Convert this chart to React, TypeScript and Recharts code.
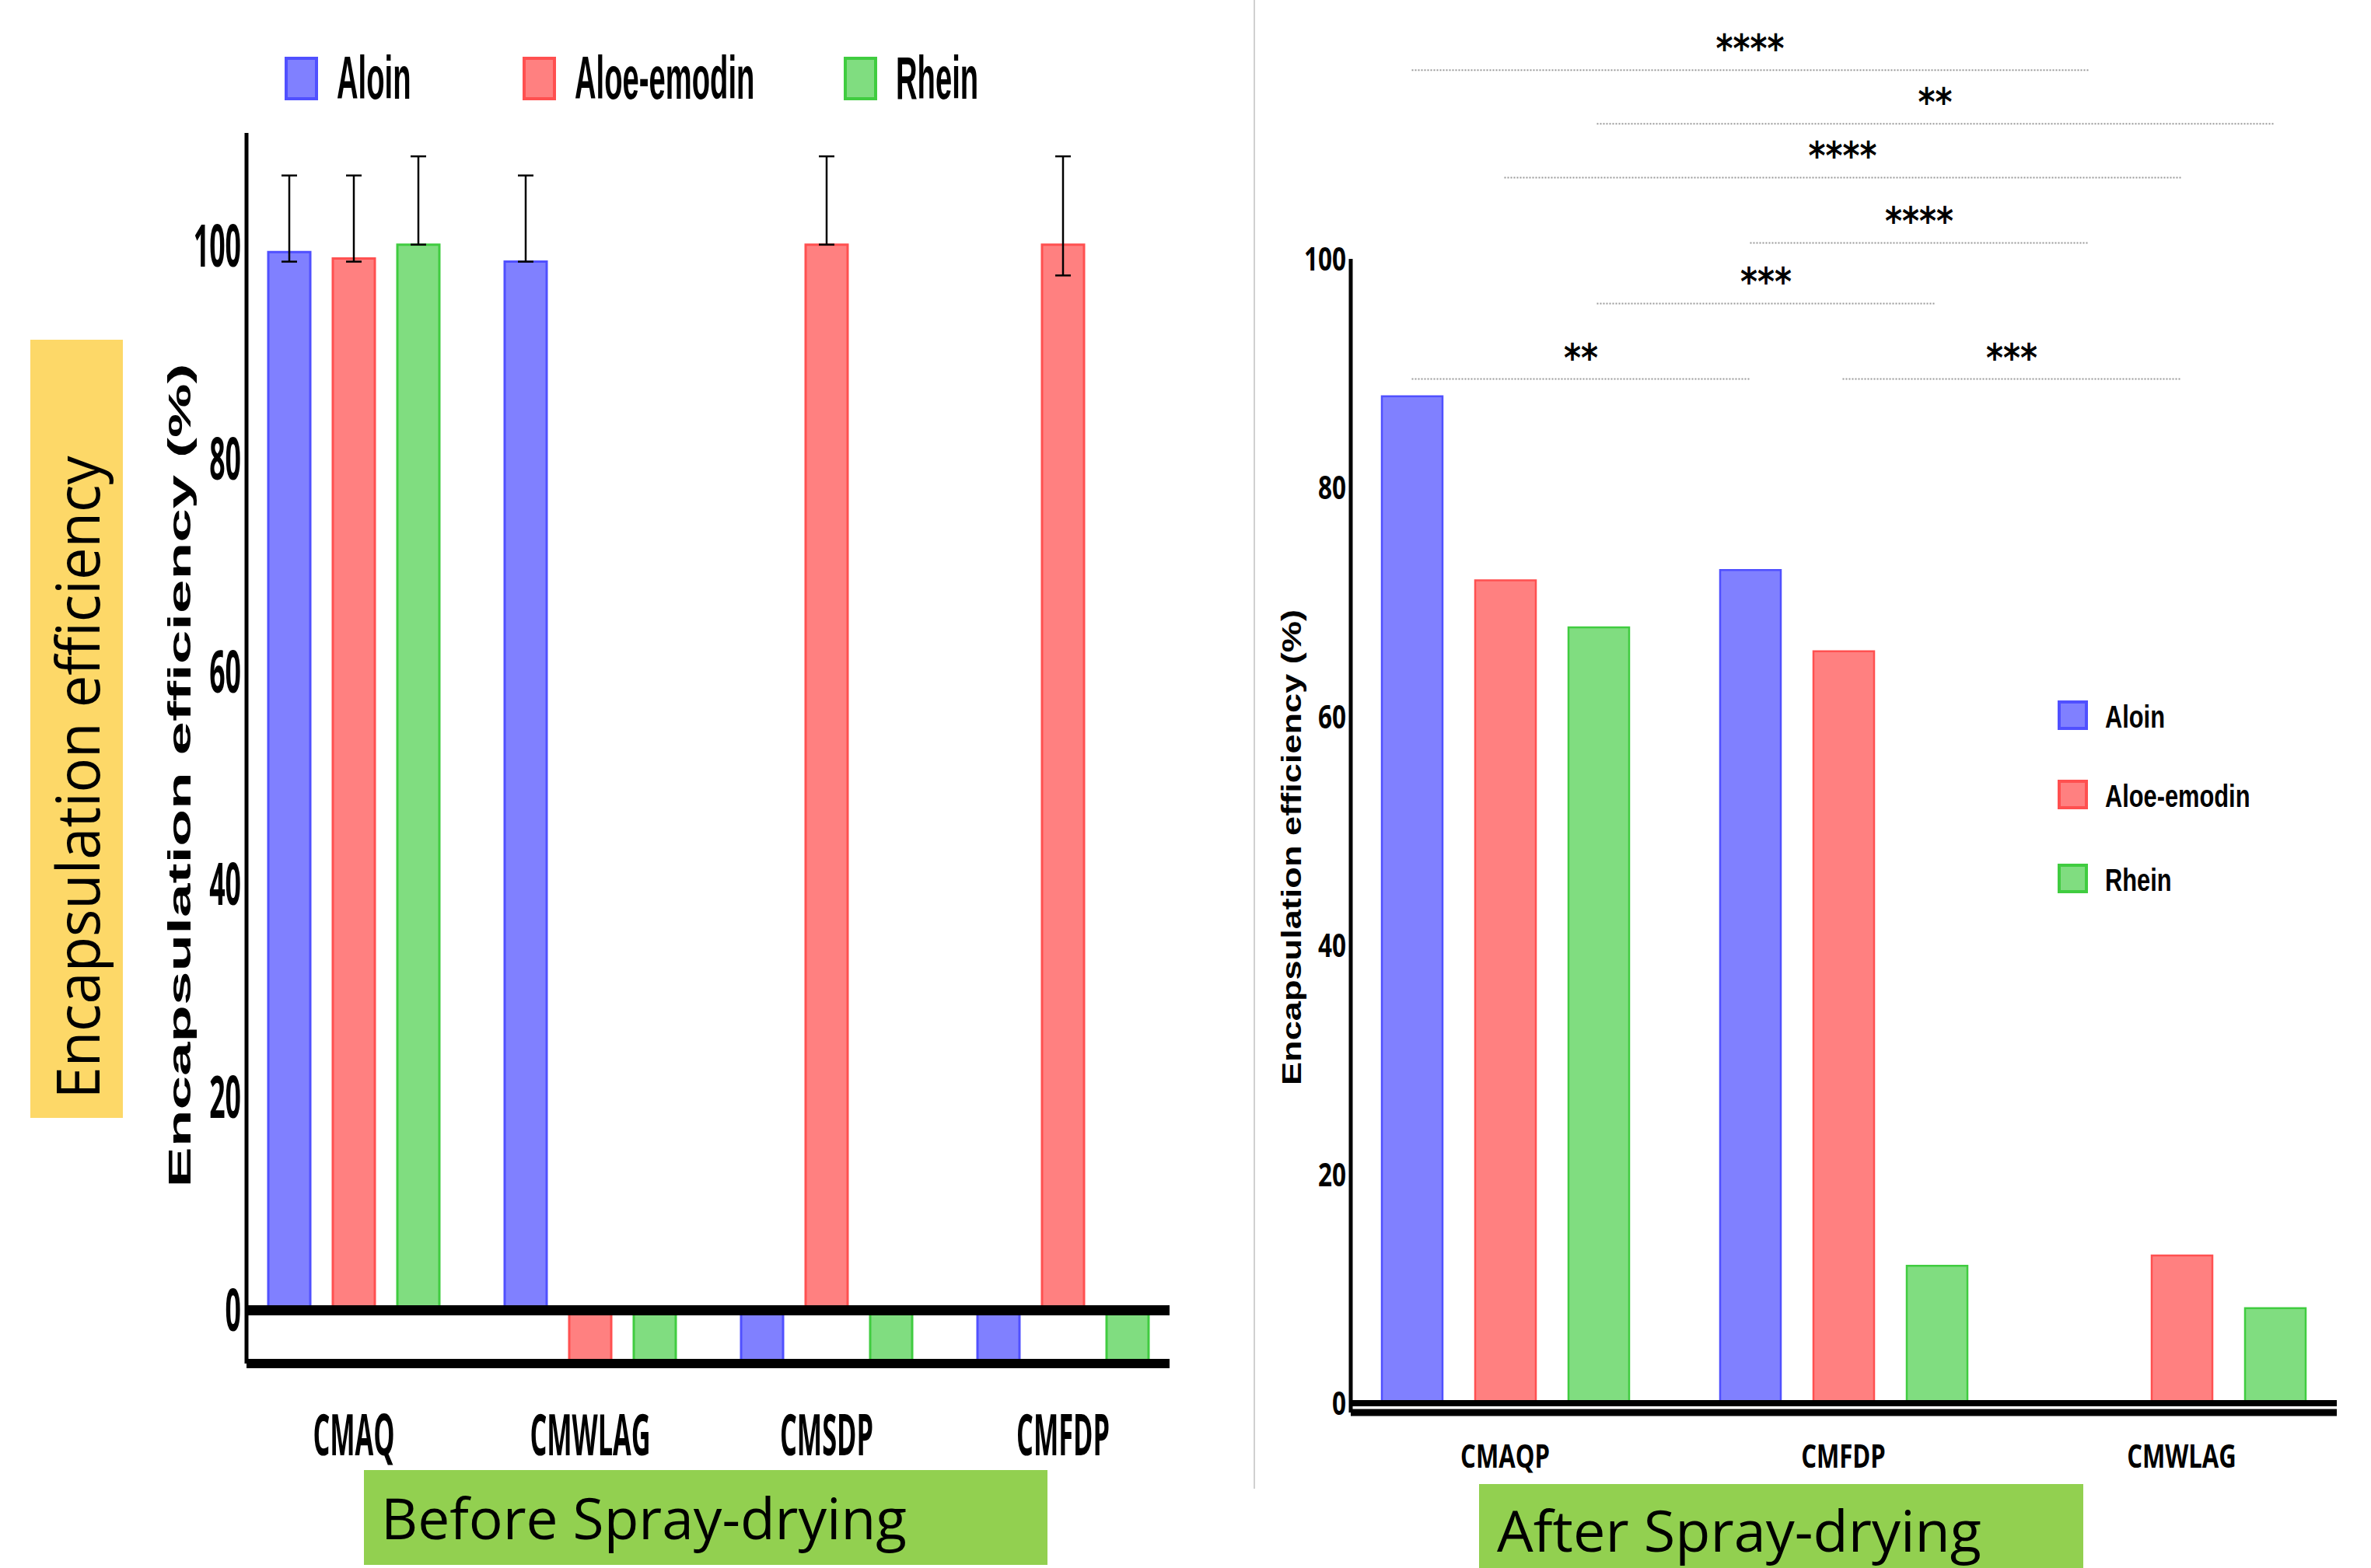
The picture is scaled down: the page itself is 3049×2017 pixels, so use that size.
import {
  Bar,
  BarChart,
  ErrorBar,
  Legend,
  ReferenceLine,
  XAxis,
  YAxis,
} from 'recharts';

// ---- data ----
const beforeGroups = ['CMAQ', 'CMWLAG', 'CMSDP', 'CMFDP'];
const beforeAloin = [99.5, 98.6, -4.8, -4.8];
const beforeAloeEmodin = [98.9, -4.8, 100.2, 100.2];
const beforeRhein = [100.2, -4.8, -4.8, -4.8];
// error as [below, above] the bar value
const beforeAloinErr = [[0.9, 7.2], [0, 8.1], null, null];
const beforeAloeEmodinErr = [[0.3, 7.8], null, [0, 8.3], [2.9, 8.3]];
const beforeRheinErr = [[0, 8.3], null, null, null];

const afterGroups = ['CMAQP', 'CMFDP', 'CMWLAG'];
const afterAloin = [88.0, 72.8, -0.15];
const afterAloeEmodin = [71.9, 65.7, 12.9];
const afterRhein = [67.8, 12.0, 8.3];

const efficiencyTicks = [0, 20, 40, 60, 80, 100];

// significance brackets: [group index, series index] pairs, height in % units
const significance = [
  { from: [0, 0], to: [2, 0], level: 116.5, stars: '****' },
  { from: [0, 2], to: [2, 2], level: 111.8, stars: '**' },
  { from: [0, 1], to: [2, 1], level: 107.1, stars: '****' },
  { from: [1, 0], to: [2, 0], level: 101.4, stars: '****' },
  { from: [0, 2], to: [1, 2], level: 96.1, stars: '***' },
  { from: [0, 0], to: [1, 0], level: 89.5, stars: '**' },
  { from: [1, 1], to: [2, 1], level: 89.5, stars: '***' },
];

const SERIES = [
  { key: 'aloin', name: 'Aloin', fill: '#8080ff', stroke: '#5050ff' },
  { key: 'aloeEmodin', name: 'Aloe-emodin', fill: '#ff8080', stroke: '#ff5050' },
  { key: 'rhein', name: 'Rhein', fill: '#80dd80', stroke: '#40cc40' },
];

const beforeData = beforeGroups.map((group, i) => ({
  group,
  aloin: beforeAloin[i],
  aloeEmodin: beforeAloeEmodin[i],
  rhein: beforeRhein[i],
  aloinErr: beforeAloinErr[i],
  aloeEmodinErr: beforeAloeEmodinErr[i],
  rheinErr: beforeRheinErr[i],
}));

const afterData = afterGroups.map((group, i) => ({
  group,
  slot: i,
  aloin: afterAloin[i],
  aloeEmodin: afterAloeEmodin[i],
  rhein: afterRhein[i],
}));

// ---- layout ----
const ARIAL = '"Liberation Sans", Arial, sans-serif';
const CALIBRI = '"Open Sans", "Noto Sans", sans-serif';

const BEFORE_LEGEND_X = [366, 672, 1085];
const AFTER_LEGEND_Y = [901, 1003, 1111];

const AFTER_W = 1429;
const AFTER_MARGIN = { top: 333, right: 44, bottom: 100, left: 17 };
const AFTER_YAXIS_W = 100;
const AFTER_PAD = { left: -19, right: -18 };
const AFTER_CAT_GAP = 59;
const AFTER_BAR_GAP = 42;
const AFTER_BAND =
  (AFTER_W - AFTER_MARGIN.left - AFTER_YAXIS_W - AFTER_MARGIN.right - AFTER_PAD.left - AFTER_PAD.right) /
  afterGroups.length;
const AFTER_BAR = Math.floor(
  (AFTER_BAND - 2 * AFTER_CAT_GAP - (SERIES.length - 1) * AFTER_BAR_GAP) / SERIES.length,
);
const barSlot = ([g, k]: number[]) =>
  g + (AFTER_CAT_GAP + k * (AFTER_BAR + AFTER_BAR_GAP) + AFTER_BAR / 2) / AFTER_BAND;

// ---- ticks and labels ----
function BeforeValueTick(props: any) {
  const { x, y, payload } = props;
  return (
    <text
      transform={`translate(${x} ${y + 26}) scale(0.47 1)`}
      textAnchor="end"
      fontFamily={CALIBRI}
      fontWeight={700}
      fontSize={76}
      fill="#000"
    >
      {payload.value}
    </text>
  );
}

function BeforeGroupTick(props: any) {
  const { x, y, payload } = props;
  return (
    <text
      transform={`translate(${x} ${y + 118}) scale(0.47 1)`}
      textAnchor="middle"
      fontFamily={CALIBRI}
      fontWeight={700}
      fontSize={73}
      fill="#000"
    >
      {payload.value}
    </text>
  );
}

function AfterValueTick(props: any) {
  const { x, y, payload } = props;
  return (
    <text
      transform={`translate(${x} ${y + 15}) scale(0.75 1)`}
      textAnchor="end"
      fontFamily={CALIBRI}
      fontWeight={700}
      fontSize={42}
      fill="#000"
    >
      {payload.value}
    </text>
  );
}

function AfterGroupTick(props: any) {
  const { x, y, payload } = props;
  return (
    <text
      transform={`translate(${x} ${y + 71}) scale(0.74 1)`}
      textAnchor="middle"
      fontFamily={CALIBRI}
      fontWeight={700}
      fontSize={42}
      fill="#000"
    >
      {payload.value}
    </text>
  );
}

function BeforeYLabel(props: any) {
  const vb = props.viewBox ?? props;
  const x = vb.x + vb.width - 72;
  const y = vb.y + vb.height / 2 + 35;
  return (
    <text
      transform={`translate(${x} ${y}) rotate(-90) scale(1 0.52)`}
      textAnchor="middle"
      fontFamily={ARIAL}
      fontWeight={700}
      fontSize={78}
      textLength={1060}
      lengthAdjust="spacingAndGlyphs"
      fill="#000"
    >
      Encapsulation efficiency (%)
    </text>
  );
}

function AfterYLabel(props: any) {
  const vb = props.viewBox ?? props;
  const x = vb.x + vb.width - 64;
  const y = vb.y + vb.height / 2 + 15;
  return (
    <text
      transform={`translate(${x} ${y}) rotate(-90) scale(1 0.75)`}
      textAnchor="middle"
      fontFamily={ARIAL}
      fontWeight={700}
      fontSize={48}
      textLength={612}
      lengthAdjust="spacingAndGlyphs"
      fill="#000"
    >
      Encapsulation efficiency (%)
    </text>
  );
}

const starLabel = (stars: string) => (props: any) => {
  const vb = props.viewBox ?? props;
  return (
    <text
      x={vb.x + vb.width / 2}
      y={vb.y - 10}
      textAnchor="middle"
      fontFamily='"DejaVu Sans", sans-serif'
      fontWeight={700}
      fontSize={50}
      textLength={stars.length * 22}
      lengthAdjust="spacingAndGlyphs"
      fill="#000"
    >
      {stars}
    </text>
  );
};

function BeforeLegend() {
  return (
    <div style={{ position: 'relative', width: 0, height: 0 }}>
      <svg width={1600} height={200} style={{ position: 'absolute', left: 0, top: 0, overflow: 'visible' }}>
        {SERIES.map((s, i) => (
          <g key={s.key}>
            <rect x={BEFORE_LEGEND_X[i] + 2} y={75} width={39} height={52} fill={s.fill} stroke={s.stroke} strokeWidth={4} />
            <text
              transform={`translate(${BEFORE_LEGEND_X[i] + 67} 127) scale(0.49 1)`}
              fontFamily={ARIAL}
              fontWeight={700}
              fontSize={78}
              fill="#000"
            >
              {s.name}
            </text>
          </g>
        ))}
      </svg>
    </div>
  );
}

function AfterLegend() {
  return (
    <div style={{ position: 'relative', width: 0, height: 0 }}>
      <svg width={AFTER_W} height={1300} style={{ position: 'absolute', left: 0, top: 0, overflow: 'visible' }}>
        {SERIES.map((s, i) => (
          <g key={s.key}>
            <rect x={1028} y={AFTER_LEGEND_Y[i] + 2} width={35} height={34} fill={s.fill} stroke={s.stroke} strokeWidth={4} />
            <text
              transform={`translate(1087 ${AFTER_LEGEND_Y[i] + 35}) scale(0.77 1)`}
              fontFamily={ARIAL}
              fontWeight={700}
              fontSize={40}
              fill="#000"
            >
              {s.name}
            </text>
          </g>
        ))}
      </svg>
    </div>
  );
}

function BeforeChart() {
  return (
    <BarChart
      width={1600}
      height={2017}
      data={beforeData}
      margin={{ top: 171, right: 96, bottom: 123, left: 197 }}
      barCategoryGap={42}
      barGap={29}
    >
      <XAxis
        dataKey="group"
        height={140}
        interval={0}
        padding={{ left: -14, right: -15 }}
        axisLine={{ stroke: '#000', strokeWidth: 12 }}
        tickLine={false}
        tickSize={0}
        tickMargin={0}
        tick={BeforeGroupTick}
      />
      <YAxis
        width={120}
        domain={[-5, 110.7]}
        ticks={efficiencyTicks}
        allowDataOverflow
        axisLine={{ stroke: '#000', strokeWidth: 5 }}
        tickLine={false}
        tickSize={0}
        tickMargin={7}
        tick={BeforeValueTick}
        label={{ content: BeforeYLabel }}
      />
      {SERIES.map((s) => (
        <Bar
          key={s.key}
          dataKey={s.key}
          name={s.name}
          fill={s.fill}
          stroke={s.stroke}
          strokeWidth={3}
          isAnimationActive={false}
        >
          <ErrorBar
            dataKey={`${s.key}Err`}
            width={10}
            stroke="#000"
            strokeWidth={2.5}
            isAnimationActive={false}
          />
        </Bar>
      ))}
      <ReferenceLine y={0} stroke="#000" strokeWidth={13} />
      <Legend content={BeforeLegend} wrapperStyle={{ left: 0, top: 0, width: 0, height: 0 }} />
    </BarChart>
  );
}

function AfterChart() {
  return (
    <BarChart
      width={AFTER_W}
      height={2017}
      data={afterData}
      margin={AFTER_MARGIN}
      barCategoryGap={AFTER_CAT_GAP}
      barGap={AFTER_BAR_GAP}
    >
      <XAxis
        dataKey="group"
        height={100}
        interval={0}
        padding={AFTER_PAD}
        axisLine={{ stroke: '#000', strokeWidth: 9 }}
        tickLine={false}
        tickSize={0}
        tickMargin={0}
        tick={AfterGroupTick}
      />
      <XAxis
        xAxisId="slot"
        type="number"
        dataKey="slot"
        domain={[0, afterGroups.length]}
        allowDataOverflow
        padding={AFTER_PAD}
        hide
      />
      <YAxis
        width={AFTER_YAXIS_W}
        domain={[-0.82, 100]}
        ticks={efficiencyTicks}
        allowDataOverflow
        axisLine={{ stroke: '#000', strokeWidth: 5 }}
        tickLine={false}
        tickSize={0}
        tickMargin={6}
        tick={AfterValueTick}
        label={{ content: AfterYLabel }}
      />
      {SERIES.map((s) => (
        <Bar
          key={s.key}
          dataKey={s.key}
          name={s.name}
          fill={s.fill}
          stroke={s.stroke}
          strokeWidth={2.5}
          isAnimationActive={false}
        />
      ))}
      <ReferenceLine y={0} stroke="#000" strokeWidth={8} />
      {significance.map((b, i) => (
        <ReferenceLine
          key={i}
          xAxisId="slot"
          ifOverflow="visible"
          segment={[
            { x: barSlot(b.from), y: b.level },
            { x: barSlot(b.to), y: b.level },
          ]}
          stroke="#9a9a9a"
          strokeWidth={2}
          strokeDasharray="2 2"
          label={starLabel(b.stars)}
        />
      ))}
      <Legend content={AfterLegend} wrapperStyle={{ left: 0, top: 0, width: 0, height: 0 }} />
    </BarChart>
  );
}

export default function App() {
  return (
    <div
      style={{
        position: 'absolute',
        left: 0,
        top: 0,
        width: 3049,
        height: 2017,
        background: '#fff',
        overflow: 'hidden',
      }}
    >
      <div style={{ position: 'absolute', left: 0, top: 0 }}>
        <BeforeChart />
      </div>
      <div style={{ position: 'absolute', left: 1620, top: 0 }}>
        <AfterChart />
      </div>
      <svg
        width={3049}
        height={2017}
        style={{ position: 'absolute', left: 0, top: 0, pointerEvents: 'none' }}
      >
        <line x1={1613} y1={0} x2={1613} y2={1915} stroke="#d0d0d0" strokeWidth={2} />
        <rect x={39} y={437} width={119} height={1001} fill="#fdd868" />
        <text
          transform="translate(128 1000) rotate(-90)"
          textAnchor="middle"
          fontFamily={CALIBRI}
          fontSize={77}
          textLength={827}
          lengthAdjust="spacingAndGlyphs"
          fill="#000"
        >
          Encapsulation efficiency
        </text>
        <rect x={468} y={1891} width={879} height={122} fill="#92d050" />
        <text
          x={490}
          y={1980}
          fontFamily={CALIBRI}
          fontSize={73}
          textLength={676}
          lengthAdjust="spacingAndGlyphs"
          fill="#000"
        >
          Before Spray-drying
        </text>
        <rect x={1902} y={1909} width={777} height={108} fill="#92d050" />
        <text
          x={1925}
          y={1996}
          fontFamily={CALIBRI}
          fontSize={73}
          textLength={623}
          lengthAdjust="spacingAndGlyphs"
          fill="#000"
        >
          After Spray-drying
        </text>
      </svg>
    </div>
  );
}
